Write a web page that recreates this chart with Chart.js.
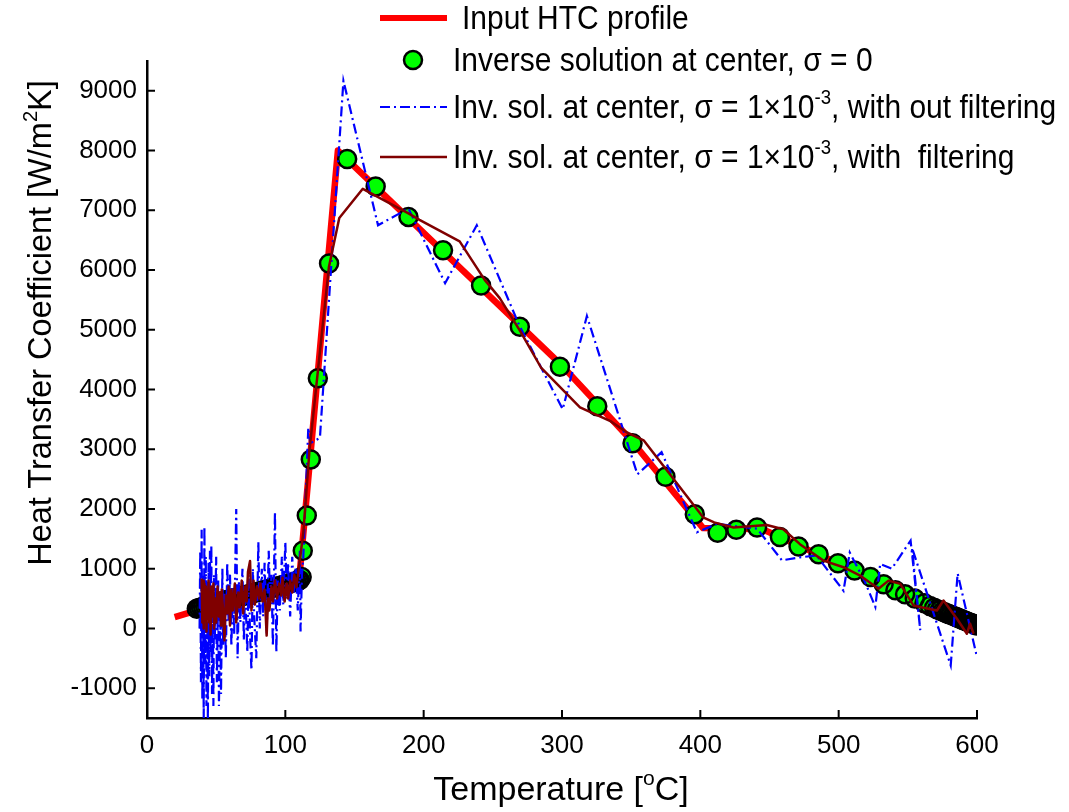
<!DOCTYPE html>
<html>
<head>
<meta charset="utf-8">
<script src="https://cdn.jsdelivr.net/npm/chart.js@4.4.1/dist/chart.umd.min.js"></script>
<style>
  body { margin: 0; background: #fff; }
  #wrap { position: relative; width: 1069px; height: 812px; font-family: 'Liberation Sans', Arial, sans-serif; color: #000; }
  #wrap canvas { position: absolute; left: 0; top: 0; }
  #wrap svg { position: absolute; left: 0; top: 0; pointer-events: none; }
  .lbl { position: absolute; white-space: nowrap; line-height: 1; }
  .lbl sup { font-size: 0.62em; vertical-align: 0.7em; line-height: 0; }
  .leg { font-size: 30px; transform: translateY(-50%) scaleY(1.12); }
  #ytitle { font-size: 32.5px; left: 40px; top: 323px; transform: translate(-50%, -50%) rotate(-90deg); }
  #xtitle { font-size: 34px; left: 561px; top: 788px; transform: translate(-50%, -50%); }
</style>
</head>
<body>
<div id="wrap">
  <canvas id="htcChart" width="1069" height="812"></canvas>
  <svg width="1069" height="812">
    <line x1="380" y1="18" x2="447" y2="18" stroke="#ff0000" stroke-width="6"/>
    <circle cx="413" cy="60" r="9" fill="#00ff00" stroke="#000" stroke-width="2.5"/>
    <line x1="380" y1="107" x2="447" y2="107" stroke="#0000ff" stroke-width="2.2" stroke-dasharray="10 4 2 4"/>
    <line x1="380" y1="157" x2="447" y2="157" stroke="#800000" stroke-width="2.5"/>
  </svg>
  <div class="lbl leg" style="left:462px; top:18px;">Input HTC profile</div>
  <div class="lbl leg" style="left:453px; top:60px;">Inverse solution at center, σ = 0</div>
  <div class="lbl leg" style="left:453px; top:107px;">Inv. sol. at center, σ = 1×10<sup>-3</sup>, with out filtering</div>
  <div class="lbl leg" style="left:453px; top:157px;">Inv. sol. at center, σ = 1×10<sup>-3</sup>, with&nbsp; filtering</div>
  <div class="lbl" id="ytitle">Heat Transfer Coefficient [W/m<sup>2</sup>K]</div>
  <div class="lbl" id="xtitle">Temperature [<sup>o</sup>C]</div>
</div>
<script>
// Ejes
const xTicks = [0, 100, 200, 300, 400, 500, 600];
const yTicks = [-1000, 0, 1000, 2000, 3000, 4000, 5000, 6000, 7000, 8000, 9000];

// Perfil HTC de entrada [T, h]
const inputProfile = [[20, 190], [110, 820], [138, 8000], [300, 4400], [350, 3150], [402, 1680], [445, 1660], [600, 40]];

// Solucion inversa en el centro, sigma = 0
const inverseSol = [
  [36, 330], [37.5, 340], [39, 352], [40.5, 362], [42, 372], [43.5, 382], [45, 392], [46.5, 402], [48, 410],
  [49.5, 422], [51, 432], [52.5, 440], [54, 450], [55.5, 460], [57, 470], [58.5, 478], [60, 488], [61.5, 498],
  [63, 506], [64.5, 515], [66, 525], [67.5, 535], [69, 544], [70.5, 553], [72, 562], [73.5, 572], [75, 582],
  [76.5, 590], [78, 600], [79.5, 610], [81, 618], [82.5, 628], [84, 638], [85.5, 646], [87, 656], [88.5, 665],
  [90, 675], [91.5, 684], [93, 694], [94.5, 703], [96, 712], [97.5, 722], [99, 731], [100.5, 741], [102, 750],
  [103.5, 760], [105, 768], [106.5, 778], [108, 790], [109.5, 800], [110.5, 810],
  [111.8, 860], [112.6, 1300], [115.5, 1890], [118.4, 2830], [123.5, 4190], [131.6, 6110], [144.7, 7860],
  [165.3, 7400], [189, 6890], [214, 6330], [241.5, 5740], [269.5, 5050], [298.5, 4380], [325.5, 3720],
  [351, 3100], [374.8, 2540], [396, 1910], [412.5, 1600], [426, 1650], [441, 1690], [457.5, 1530],
  [471, 1370], [485.5, 1240], [499.5, 1090], [511.5, 970], [523, 860], [532.5, 740], [541, 640], [548, 570],
  [555, 500], [562, 420], [566, 375], [569, 345], [571, 322], [573, 302], [575, 285], [576.5, 270],
  [578, 255], [579.5, 242], [581, 228], [582.5, 214], [584, 200], [585, 190], [586, 180], [587, 170],
  [588, 160], [589, 150], [590, 141], [591, 132], [592, 122], [593, 113], [594, 104], [595, 95], [596, 86],
  [597, 77], [598, 68], [599, 58], [600, 48]
];

// sigma = 1e-3, sin filtrado
const noisySol = [
  [38, 0], [38.5, 1300], [39, -900], [39.5, 1650], [40, -1200], [40.5, 900], [41, -1500], [41.5, 1700],
  [42, -600], [42.5, 1200], [43, -1300], [43.5, 800], [44, -1550], [44.5, 1100], [45, -800], [45.5, 1300],
  [46, -400], [46.5, 1400], [47, -1100], [47.5, 600], [48, -1300], [48.5, 900], [49, -200], [50, 1200],
  [50.5, -900], [51.5, 800], [52, -1300], [53, 300], [53.5, -1100], [54.5, 1000], [55, -300], [56, 600],
  [57, -500], [58, 1100], [59, 100], [60, 900], [61, -300], [62, 700], [63, -100], [64.5, 2000],
  [65.5, -500], [66.5, 800], [67.5, 100], [69, 1000], [70, -200], [71, 700], [72.5, -400], [73.5, 900],
  [74.5, -100], [75.5, -700], [76.5, 1000], [77.5, 200], [79, -500], [80.5, 1450], [81.5, 0], [83, 1000],
  [84, 200], [85, 1100], [86.5, -100], [88, 1300], [89, 400], [90, 900], [91, -300], [92.5, 1950],
  [93.5, -400], [94.5, 800], [96, 300], [97.5, 1200], [98.5, 400], [100, 1450], [101, 500], [102, 1100],
  [103.5, 200], [105, 1200], [106, 600], [107.5, 1000], [109, 300], [110.5, 1300], [111, -50], [112, 900],
  [113, 1200], [116.6, 3360], [118, 3100], [125, 3190], [142, 9170], [167, 6750], [189, 7030],
  [215.5, 5780], [238.4, 6750], [269, 5080], [300.5, 3670], [318, 5230], [354.5, 2580], [372, 2950],
  [397.5, 1610], [412, 1750], [441, 1670], [459, 1140], [472, 1190], [484, 1220], [503.5, 630],
  [508, 1270], [519, 780], [526.5, 360], [530, 1080], [538.4, 1000], [552, 1470], [559, -30],
  [553, 1350], [581, -620], [586, 920], [600, -480]
];

// sigma = 1e-3, con filtrado
const filteredSol = [
  [39.5, 835], [40, 100], [40.5, 800], [41, 0], [41.5, 750], [42, 150], [42.5, 700], [43, -50],
  [43.5, 650], [44, 250], [44.5, 800], [45, 100], [45.5, 600], [46, -100], [46.5, 700], [47, 200],
  [48, 750], [48.5, 0], [49.5, 500], [50, 100], [51, 700], [52, 200], [52.5, 600], [53.5, 50],
  [54, 650], [55, 300], [56, -200], [57, 550], [58, 250], [59, 700], [60, 50], [61, 650], [62, 300],
  [63.5, 750], [64.5, 100], [66, 600], [67, 350], [68.5, 800], [69.5, 250], [71, 700], [72, 450],
  [73, 950], [74.5, 1130], [75.5, 300], [77, 800], [78, 400], [79.5, 700], [81, 500], [82, 750],
  [83.5, 450], [85, 650], [86.5, -120], [87.5, 500], [88.5, 300], [90, 700], [91, 450], [92.5, 800],
  [94, 500], [95.5, 750], [97, 550], [98, 850], [99.5, 450], [101, 750], [102, 500], [103.5, 800],
  [105, 600], [106.5, 900], [108, 690], [113, 1600], [117.4, 2970], [131.5, 6050], [139, 6870],
  [156, 7360], [189, 6950], [197, 6840], [226, 6480], [244, 5840], [255, 5530], [270, 4970],
  [285, 4360], [313, 3700], [335, 3470], [347, 3280], [359, 3150], [378, 2580], [402, 1860],
  [410, 1775], [424, 1690], [448, 1730], [460, 1660], [472, 1410], [489, 1135], [503.5, 1025],
  [515.5, 885], [528.8, 663], [536, 800], [544.5, 745], [554, 384], [571, 300], [575.8, 467],
  [585.5, 162], [592.7, -89], [595, 78], [597.5, -89]
];

const fontFamily = "'Liberation Sans', Arial, sans-serif";
const toXY = pts => pts.map(p => ({ x: p[0], y: p[1] }));

// marcas de eje hacia dentro, como en MATLAB
const inwardTicks = {
  id: 'inwardTicks',
  afterDraw(chart) {
    const { ctx, chartArea: a, scales: { x, y } } = chart;
    ctx.save();
    ctx.strokeStyle = '#000';
    ctx.lineWidth = 2;
    ctx.beginPath();
    xTicks.forEach(v => {
      const px = x.getPixelForValue(v);
      ctx.moveTo(px, a.bottom);
      ctx.lineTo(px, a.bottom - 8);
    });
    yTicks.forEach(v => {
      const py = y.getPixelForValue(v);
      ctx.moveTo(a.left, py);
      ctx.lineTo(a.left + 8, py);
    });
    ctx.stroke();
    ctx.restore();
  }
};

new Chart(document.getElementById('htcChart'), {
  type: 'line',
  data: {
    datasets: [
      {
        label: 'Inv. sol. at center, σ = 1×10^-3, with filtering',
        data: toXY(filteredSol),
        borderColor: '#800000',
        borderWidth: 2.5,
        pointRadius: 0,
        borderJoinStyle: 'round',
        order: 1
      },
      {
        label: 'Inv. sol. at center, σ = 1×10^-3, with out filtering',
        data: toXY(noisySol),
        borderColor: '#0000ff',
        borderWidth: 2.2,
        borderDash: [10, 4, 2, 4],
        pointRadius: 0,
        order: 2
      },
      {
        // bordes de los marcadores (MATLAB pinta primero todos los rellenos y luego los bordes)
        label: 'Inverse solution at center, σ = 0',
        data: toXY(inverseSol),
        showLine: false,
        pointRadius: 9,
        pointBackgroundColor: 'rgba(0,0,0,0)',
        pointBorderColor: '#000',
        pointBorderWidth: 2.5,
        order: 3
      },
      {
        label: 'Inverse solution at center, σ = 0 (fill)',
        data: toXY(inverseSol),
        showLine: false,
        pointRadius: 9,
        pointBackgroundColor: '#00ff00',
        pointBorderColor: 'rgba(0,0,0,0)',
        pointBorderWidth: 0,
        order: 4
      },
      {
        label: 'Input HTC profile',
        data: toXY(inputProfile),
        borderColor: '#ff0000',
        borderWidth: 6.5,
        borderJoinStyle: 'round',
        pointRadius: 0,
        order: 5
      }
    ]
  },
  options: {
    responsive: false,
    animation: false,
    devicePixelRatio: 1,
    events: [],
    layout: { padding: { left: 0, top: 61, right: 92, bottom: 0 } },
    plugins: { legend: { display: false }, tooltip: { enabled: false } },
    scales: {
      x: {
        type: 'linear',
        min: 0,
        max: 600,
        afterBuildTicks: axis => { axis.ticks = xTicks.map(v => ({ value: v })); },
        afterFit: axis => { axis.height = 94; },
        ticks: { color: '#000', font: { family: fontFamily, size: 26 }, padding: 12, maxRotation: 0, autoSkip: false, callback: v => String(v) },
        grid: { display: false, drawTicks: false },
        border: { display: true, color: '#000', width: 2.5 }
      },
      y: {
        type: 'linear',
        min: -1500,
        max: 9500,
        afterBuildTicks: axis => { axis.ticks = yTicks.map(v => ({ value: v })); },
        afterFit: axis => { axis.width = 147; },
        ticks: { color: '#000', font: { family: fontFamily, size: 26 }, padding: 10, autoSkip: false, callback: v => String(v) },
        grid: { display: false, drawTicks: false },
        border: { display: true, color: '#000', width: 2.5 }
      }
    }
  },
  plugins: [inwardTicks]
});
</script>
</body>
</html>
